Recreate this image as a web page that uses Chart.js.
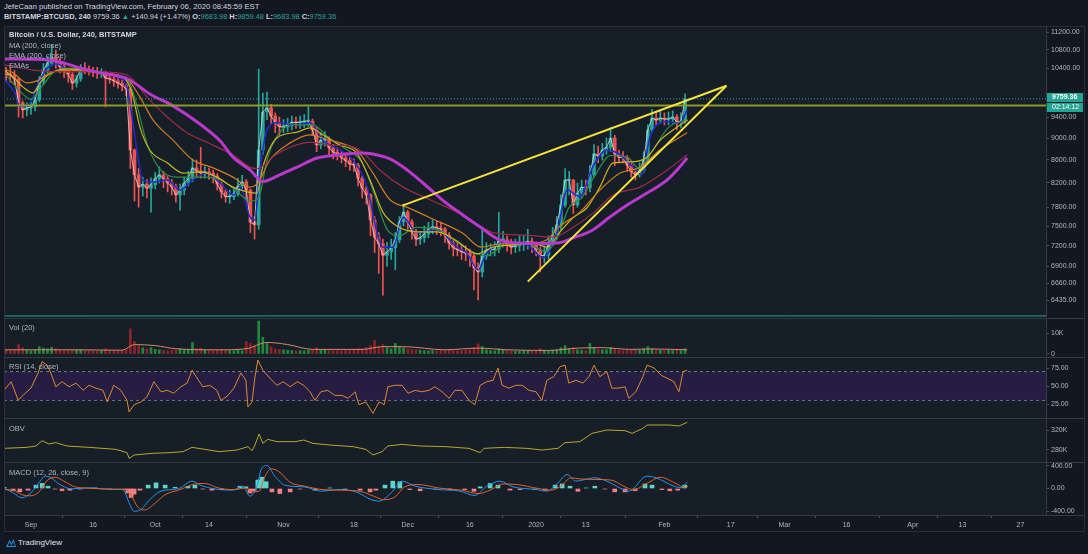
<!DOCTYPE html>
<html lang="en">
<head>
<meta charset="UTF-8">
<title>BITSTAMP:BTCUSD 240</title>
<style>
    body {
        margin: 0;
        width: 1088px;
        height: 554px;
        overflow: hidden;
        position: relative;
        background: #131722;
        font-family: "Liberation Sans", Arial, sans-serif;
        color: #d1d4dc;
    }
    .pane { position: absolute; left: 4px; width: 1042px; background: #161e27; }
    .sep { position: absolute; left: 4px; width: 1080px; height: 1px; background: #363a45; }
    canvas { position: absolute; left: 4px; }
    .lbl { position: absolute; left: 9px; font-size: 7.5px; line-height: 10px; color: #b2b5be; white-space: nowrap; }
    .hdr { position: absolute; left: 4px; font-size: 7.7px; line-height: 10px; white-space: nowrap; color: #d1d4dc; }
    .up { color: #26a69a; }
    #frame { position: absolute; left: 4px; top: 26px; width: 1079px; height: 504px; border: 1px solid #2a2e39; }
</style>
<script src="https://cdn.jsdelivr.net/npm/chart.js"></script>
</head>
<body>
    <div class="hdr" style="top:2px">JefeCaan published on TradingView.com, February 06, 2020 08:45:59 EST</div>
    <div class="hdr" style="top:12px;font-size:7.4px"><b>BITSTAMP:BTCUSD, 240</b> 9759.36 <span class="up">▲</span> +140.94 (+1.47%) <b>O:</b><span class="up">9683.98</span> <b>H:</b><span class="up">9859.48</span> <b>L:</b><span class="up">9683.98</span> <b>C:</b><span class="up">9759.36</span></div>

    <div class="pane" style="top:27px;height:290px"></div>
    <div class="pane" style="top:319px;height:38px"></div>
    <div class="pane" style="top:358px;height:60px"></div>
    <div class="pane" style="top:419px;height:43px"></div>
    <div class="pane" style="top:463px;height:52px"></div>

    <canvas id="cMain" width="1080" height="290" style="top:27px"></canvas>
    <canvas id="cVol" width="1080" height="38" style="top:319px"></canvas>
    <canvas id="cRsi" width="1080" height="60" style="top:358px"></canvas>
    <canvas id="cObv" width="1080" height="43" style="top:419px"></canvas>
    <canvas id="cMacd" width="1080" height="67" style="top:463px"></canvas>

    <div id="frame"></div>
    <div class="sep" style="top:318px"></div>
    <div class="sep" style="top:357px"></div>
    <div class="sep" style="top:418px"></div>
    <div class="sep" style="top:462px"></div>
    <div class="sep" style="top:515px"></div>

    <div class="lbl" style="top:30px;color:#d1d4dc;font-weight:bold">Bitcoin / U.S. Dollar, 240, BITSTAMP</div>
    <div class="lbl" style="top:41px">MA (200, close)</div>
    <div class="lbl" style="top:51px">EMA (200, close)</div>
    <div class="lbl" style="top:61px">EMAs</div>
    <div class="lbl" style="top:323px">Vol (20)</div>
    <div class="lbl" style="top:362px">RSI (14, close)</div>
    <div class="lbl" style="top:424px">OBV</div>
    <div class="lbl" style="top:468px">MACD (12, 26, close, 9)</div>

    <svg style="position:absolute;left:5px;top:537px" width="12" height="11" viewBox="0 0 12 11">
        <path d="M1 10 L4.5 3 L6.5 6.5 L8.5 2 L11 10 Z" fill="#2196f3"/>
        <path d="M2.5 9 L4.5 5 L6.5 8.5 L8.5 4.5 L10 9 Z" fill="#131722"/>
    </svg>
    <div class="hdr" style="left:18px;top:538px;font-size:8px;color:#e0e3eb">TradingView</div>

    <script>
        const FONT = '"Liberation Sans", Arial, sans-serif';

        // day 0 = Sep 1 2019, one candle per day (4h chart condensed)
        const firstDay = -6;
        const firstOpen = 10300;
        const closes = [
            10270, 10250, 10170, 9680, 9540, 9580, 9600, 9740, 10120, 10360,
            10510, 10620, 10540, 10430, 10340, 10270, 10080, 10170, 10400, 10380,
            10340, 10320, 10300, 10300, 10190, 10170, 10130, 10080, 10040, 9960,
            8780, 8340, 8130, 8180, 8110, 8170, 8280, 8340, 8270, 8200,
            8130, 8000, 8080, 8200, 8280, 8460, 8410, 8370, 8390, 8370,
            8320, 8180, 8050, 7970, 7970, 8020, 8150, 8220, 8080, 7560,
            7520, 8780, 9500, 9580, 9420, 9290, 9210, 9210, 9250, 9300,
            9290, 9300, 9320, 9320, 9150, 8870, 8960, 8960, 8820, 8740,
            8710, 8640, 8590, 8530, 8510, 8280, 8110, 8000, 7595, 7330,
            7230, 7060, 7110, 7170, 7290, 7565, 7720, 7565, 7410, 7300,
            7320, 7380, 7455, 7490, 7470, 7455, 7360, 7240, 7170, 7140,
            7110, 7090, 7050, 6880, 6820, 7050, 7140, 7140, 7150, 7290,
            7290, 7210, 7180, 7200, 7230, 7240, 7270, 7210, 7140, 7050,
            7060, 7230, 7350, 7520, 7835, 8250, 8250, 7835, 8030, 8130,
            8120, 8340, 8710, 8670, 8780, 8830, 9000, 8710, 8650, 8640,
            8510, 8390, 8340, 8420, 8600, 9150, 9380, 9340, 9380, 9360,
            9360, 9400, 9300, 9320, 9759.36
        ];
        const highs = [
            10420, 10400, 10350, 10200, 9720, 9680, 9700, 9840, 10220, 10500,
            10650, 10920, 10800, 10620, 10500, 10400, 10320, 10250, 10480, 10520,
            10450, 10420, 10420, 10390, 10340, 10280, 10250, 10200, 10150, 10080,
            9980, 8800, 8450, 8300, 8260, 8290, 8380, 8480, 8400, 8320,
            8260, 8180, 8180, 8300, 8400, 8620, 8600, 8830, 8480, 8460,
            8420, 8360, 8220, 8100, 8080, 8120, 8280, 8330, 8260, 8100,
            7650, 10380, 9880, 9900, 9650, 9480, 9400, 9350, 9380, 9420,
            9400, 9420, 9450, 9600, 9360, 9200, 9100, 9120, 9020, 8880,
            8820, 8760, 8700, 8650, 8620, 8540, 8320, 8150, 8020, 7650,
            7400, 7300, 7250, 7300, 7400, 7650, 7850, 7750, 7600, 7450,
            7420, 7500, 7560, 7600, 7580, 7560, 7480, 7400, 7280, 7250,
            7220, 7200, 7150, 7080, 6950, 7450, 7250, 7230, 7260, 7720,
            7420, 7350, 7300, 7300, 7350, 7350, 7450, 7320, 7260, 7180,
            7200, 7350, 7480, 7650, 8000, 8450, 8400, 8260, 8200, 8250,
            8250, 8500, 8880, 8850, 8900, 9000, 9200, 9050, 8780, 8750,
            8680, 8550, 8450, 8550, 8750, 9250, 9550, 9500, 9550, 9480,
            9500, 9520, 9450, 9480, 9860
        ];
        const lows = [
            10120, 10100, 10050, 9400, 9380, 9420, 9450, 9520, 9700, 10050,
            10300, 10450, 10400, 10300, 10200, 10100, 9950, 10000, 10120, 10280,
            10250, 10220, 10180, 10200, 9600, 10080, 10020, 9980, 9920, 9820,
            8450, 7900, 7800, 7980, 7950, 7720, 8100, 8200, 8120, 8050,
            8000, 7880, 7750, 8000, 8150, 8220, 8300, 8280, 8280, 8260,
            8200, 8080, 7950, 7880, 7860, 7920, 7980, 8100, 7900, 7400,
            7300, 7450, 8700, 9350, 9250, 9100, 9050, 9100, 9120, 9150,
            9180, 9180, 9200, 9220, 9050, 8750, 8800, 8850, 8700, 8620,
            8600, 8550, 8480, 8420, 8400, 8150, 7950, 7850, 7350, 7100,
            6800, 6500, 6900, 7000, 6850, 7250, 7500, 7450, 7300, 7200,
            7220, 7250, 7320, 7380, 7370, 7350, 7250, 7150, 7050, 7050,
            7000, 6980, 6900, 6570, 6436, 6750, 7000, 7050, 7050, 7100,
            7180, 7120, 7080, 7100, 7120, 7130, 7150, 7100, 7050, 6820,
            6950, 7000, 7200, 7300, 7450, 7800, 8000, 7700, 7800, 7950,
            8000, 8050, 8300, 8550, 8600, 8700, 8750, 8500, 8550, 8550,
            8400, 8300, 8250, 8300, 8380, 8550, 9100, 9250, 9280, 9250,
            9250, 9280, 9150, 9200, 9280
        ];
        // thousands of BTC per bar
        const volumes = [
            1.8, 1.5, 2.0, 4.5, 3.0, 1.8, 1.5, 2.0, 3.5, 2.8,
            2.5, 3.2, 2.5, 1.8, 1.6, 1.5, 2.2, 1.8, 2.0, 1.6,
            1.5, 1.4, 1.5, 1.6, 2.5, 1.5, 1.4, 1.5, 1.6, 2.0,
            12.0, 6.0, 4.0, 3.0, 2.5, 3.0, 2.2, 2.0, 1.8, 1.6,
            1.8, 2.0, 2.5, 2.0, 1.8, 5.5, 2.5, 2.8, 1.8, 1.6,
            1.5, 2.0, 2.2, 1.8, 1.6, 1.5, 1.8, 1.6, 6.0, 5.0,
            4.0, 15.7, 8.0, 5.0, 3.5, 2.5, 2.2, 2.0, 1.8, 1.6,
            1.5, 1.6, 1.5, 1.8, 2.0, 3.0, 2.0, 1.8, 1.6, 1.5,
            1.6, 1.5, 1.8, 1.6, 1.8, 2.5, 2.5, 3.0, 4.0, 6.5,
            3.5, 4.5, 3.0, 2.5, 5.0, 3.5, 3.0, 2.5, 2.2, 2.0,
            1.8, 1.6, 1.5, 1.6, 1.5, 1.6, 1.8, 2.0, 1.6, 1.5,
            1.6, 1.8, 2.0, 3.0, 4.8, 3.5, 2.0, 1.6, 1.5, 2.5,
            1.8, 1.6, 1.4, 1.3, 1.4, 1.5, 1.6, 1.4, 1.5, 2.5,
            1.8, 1.6, 1.8, 2.0, 3.0, 4.0, 2.5, 3.0, 2.0, 1.8,
            1.6, 5.0, 3.0, 2.2, 2.0, 2.0, 3.0, 2.5, 1.8, 1.6,
            2.0, 2.2, 2.0, 1.8, 2.5, 3.5, 2.5, 2.0, 1.8, 1.6,
            1.8, 1.6, 1.8, 1.6, 2.5
        ];
        const volMaDays = [-6.5, 10, 22, 25, 30, 35, 45, 52, 57, 62, 68, 80, 85, 90, 100, 108, 115, 125, 132, 138, 145, 150, 158.5];
        const volMa = [2.0, 2.0, 1.8, 4.5, 4.0, 2.5, 2.0, 2.5, 5.5, 4.5, 2.2, 2.2, 3.5, 3.5, 2.0, 2.8, 2.0, 1.7, 2.8, 3.0, 2.2, 2.4, 2.0];

        // moving averages
        const ma200Days = [-6.5, 4.6, 11.8, 16.7, 23.4, 28.7, 34.3, 40.8, 45.7, 48.8, 52.9, 56, 60.1, 64.3, 69.1, 73.9, 80.2, 83.6, 86.7, 89.9, 94.7, 99.4, 104.3, 108.5, 113.3, 118.1, 122.9, 127.1, 131, 135.7, 139.9, 144, 148.8, 153.6, 156, 158.5];
        const ma200 = [10600, 10580, 10405, 10300, 10170, 9860, 9620, 9265, 8945, 8650, 8425, 8225, 8340, 8475, 8635, 8690, 8725, 8690, 8620, 8475, 8200, 7915, 7675, 7485, 7285, 7240, 7235, 7240, 7320, 7440, 7645, 7835, 8030, 8250, 8420, 8635];
        const ema200Days = [-6.5, 0.5, 8.7, 16.7, 23.2, 28, 32.9, 37.7, 42.5, 48.8, 52.9, 54.8, 58.5, 62.6, 67.4, 72.2, 77.1, 80.2, 84.3, 89.9, 96.4, 104.3, 111.6, 119.8, 126.1, 130.9, 135.7, 140.6, 147.1, 153.6, 158.5];
        const ema200 = [10470, 10360, 10320, 10320, 10255, 9800, 9400, 9100, 8920, 8690, 8470, 8450, 8660, 8830, 8920, 8870, 8850, 8730, 8420, 8130, 7920, 7675, 7400, 7360, 7330, 7480, 7700, 8000, 8130, 8420, 8690];
        const emaOrangeDays = [-6.5, -4.3, -1, 1.4, 4.6, 8.7, 16.7, 23.2, 26.3, 29.5, 34.3, 39.1, 44, 48.8, 52.9, 54.8, 57.7, 62.6, 67.4, 70.5, 74.6, 78.7, 82.6, 86.7, 90.8, 96.4, 104.3, 108.7, 113.3, 119.8, 124.6, 127.8, 132.6, 137.4, 142.3, 147.1, 151.9, 158.5];
        const emaOrange = [10380, 10300, 10090, 10130, 10300, 10360, 10300, 10170, 9800, 9340, 8960, 8600, 8460, 8300, 8130, 8200, 8600, 8910, 9060, 9000, 8910, 8780, 8370, 7920, 7800, 7630, 7390, 7180, 7230, 7230, 7290, 7500, 7720, 8080, 8370, 8470, 8780, 9100];
        const emaYellowDays = [-6.5, -4.3, -1.9, 0.5, 2.2, 4.6, 8.7, 13.5, 18.4, 22.2, 24.4, 26.3, 28.7, 32.9, 36.7, 40.8, 44.9, 48.8, 52.2, 54.6, 56, 59.4, 64.3, 67.4, 70.5, 74.6, 78.7, 81.9, 85, 88.4, 93.2, 98.1, 102.9, 107.7, 111.6, 115.7, 121.3, 124.6, 127.8, 130.9, 134.3, 137.4, 140.6, 145.4, 148.8, 152, 155.1, 158.6];
        const emaYellow = [10360, 10210, 10000, 9880, 10090, 10280, 10380, 10360, 10280, 10210, 9880, 9210, 8780, 8550, 8370, 8390, 8300, 8130, 8050, 8030, 8480, 9000, 9110, 9190, 9060, 8870, 8725, 8250, 7720, 7500, 7410, 7410, 7270, 7080, 7180, 7210, 7240, 7180, 7410, 7630, 7790, 8130, 8550, 8570, 8650, 8960, 9150, 9340];
        const emaGreenDays = [-6, -3, 0, 3, 6, 10, 16, 22, 24, 26, 28, 31, 35, 40, 45, 49, 53, 55, 57, 60, 64, 68, 72, 76, 80, 83, 86, 89, 93, 98, 103, 107, 110, 114, 120, 124, 127, 130, 133, 136, 140, 144, 147, 150, 154, 158.5];
        const emaGreen = [10250, 9950, 9750, 10050, 10350, 10400, 10320, 10200, 10050, 9500, 8900, 8450, 8300, 8300, 8280, 8100, 7900, 7950, 8600, 9100, 9250, 9250, 9000, 8800, 8550, 8000, 7450, 7350, 7480, 7450, 7250, 7100, 7050, 7200, 7230, 7120, 7300, 7800, 7950, 8300, 8680, 8650, 8450, 8750, 9200, 9350];
        const emaBlueDays = [-6.3, -3.9, -2.7, -0.2, 1.4, 3.9, 6.3, 8.7, 11.8, 16.7, 20.8, 23.2, 24.4, 25.6, 27, 29.5, 32.9, 36, 39.1, 42.5, 45.7, 48.8, 50.5, 52.9, 54.1, 55.3, 57, 59.4, 64.3, 67.4, 70.5, 74.6, 77.8, 81.2, 83.6, 85, 87.4, 89.9, 93.2, 98.1, 102.9, 105.3, 108, 110.1, 114, 119.8, 123.7, 127.1, 129.5, 132.6, 135.7, 139.1, 141.5, 145.4, 147.6, 149.5, 153.6, 156.8, 158.5];
        const emaBlue = [10150, 9880, 9600, 9680, 10000, 10400, 10490, 10380, 10360, 10300, 10210, 10000, 9400, 8780, 8250, 8215, 8250, 8080, 8250, 8370, 8200, 8000, 8130, 7640, 7595, 8420, 9150, 9290, 9250, 9290, 8960, 8780, 8600, 8130, 7400, 7180, 7180, 7640, 7400, 7440, 7180, 7090, 6850, 7090, 7240, 7210, 7030, 7400, 8080, 7970, 8480, 8780, 8730, 8480, 8340, 9020, 9310, 9290, 9540];

        // drawings
        const wedgeUpperDays = [89.7, 168.0];
        const wedgeUpper = [7824, 10030];
        const wedgeLowerDays = [120.0, 168.0];
        const wedgeLower = [6685, 10030];
        const resistanceLevel = 9625;
        const lowLevel = 6226;
        const lastPrice = 9759.36;
        const countdown = '02:14:12';

        // oscillators
        const rsiDays = [-6.5, -4.8, -3.1, -1.4, 0, 1.7, 2.7, 3.9, 4.8, 6, 7.5, 9.2, 10.9, 12.6, 14, 15.7, 17.4, 18.4, 20, 21.7, 23.2, 23.7, 24.9, 26.6, 28, 29.7, 31.4, 32.9, 34.5, 36.2, 37.7, 38.9, 39.9, 41.5, 43.2, 44.9, 45.9, 47.6, 49, 50.7, 51.9, 52.4, 53.4, 54.1, 54.8, 56, 57.7, 59.4, 60.9, 62.6, 64.3, 65.9, 67.4, 68.6, 70, 71.7, 73.4, 75.1, 76.6, 78.3, 79.2, 80.9, 82.6, 84.1, 85.3, 86.2, 87.9, 89.6, 91.1, 92.8, 94.4, 96.1, 97.6, 99.3, 101, 102.4, 104.1, 105.8, 107.2, 108.5, 110.1, 111.6, 112.8, 113.8, 115.5, 117.1, 118.6, 120.3, 122, 123.4, 124.6, 126.3, 127.8, 129, 129.9, 131.6, 133.3, 134.8, 136, 137.4, 139.1, 140.3, 141.8, 143.5, 144.4, 146.1, 147.8, 148.8, 150.5, 152.2, 153.6, 155.3, 156.5, 157.5, 158.5];
        const rsiVals = [44, 56, 30.5, 40, 47, 68, 84, 79, 68, 49, 56, 49, 54, 44, 51, 47, 44, 28, 51, 44, 30, 14, 24, 28, 35, 56, 42, 44, 40, 49, 54, 72, 63, 49, 51, 44, 30, 37, 47, 68, 58, 21, 28, 63, 86, 72, 61, 51, 56, 49, 56, 51, 42, 30, 42, 44, 37, 37, 33, 42, 24, 28, 12, 28, 24, 49, 51, 51, 40, 44, 42, 44, 49, 42, 33, 44, 44, 30, 24, 51, 56, 58, 75, 51, 47, 51, 51, 44, 42, 30, 58, 63, 77, 79, 54, 58, 54, 63, 79, 63, 70, 47, 47, 49, 33, 42, 63, 79, 75, 65, 61, 56, 42, 70, 72];
        const rsiUpper = 70;
        const rsiLower = 30;

        const obvDays = [-6.5, -1, 1.2, 2.7, 4.3, 6, 8.7, 14, 20.5, 23.2, 23.7, 24.9, 29.2, 33.6, 36.7, 38.9, 42, 45.4, 49.8, 52.4, 53.4, 54.1, 55.1, 56, 57.2, 59.4, 63.8, 65.9, 68.1, 72.2, 77.8, 80.9, 82.6, 84.8, 86.2, 89.6, 94, 100.2, 105.8, 108.5, 109.4, 114.3, 119.8, 123.4, 127.3, 129, 132.6, 135.5, 139.1, 143.5, 145.2, 147.8, 148.8, 154.3, 156.5, 158.5];
        const obvVals = [283.3, 285.3, 288, 298.7, 292, 294.7, 288, 285.3, 281.3, 274.7, 263.3, 270, 273.3, 274.7, 276.7, 285.3, 281.3, 276.7, 280, 286.7, 278.7, 290, 312, 293.3, 301.3, 296.7, 296.7, 300, 293.3, 290, 286.7, 281.3, 270, 276.7, 288, 291.3, 288, 286.7, 283.3, 274.7, 283.3, 285.3, 283.3, 280, 283.3, 294.7, 296.7, 313.3, 320, 318.7, 313.3, 323.3, 330, 330, 328, 335.3];

        const macdDays = [-6.5, -4.3, -2.2, 0, 2.2, 3.4, 4.8, 7, 9.7, 14, 19.6, 22.2, 23.7, 24.9, 26.6, 28.7, 31.4, 35.7, 38.9, 41.1, 44.2, 48.6, 51.2, 52.9, 54.6, 55.6, 57, 58.9, 61.6, 65.9, 70, 74.4, 78.7, 82.1, 84.1, 87, 89.6, 92.8, 98.3, 103.6, 107.2, 110.1, 113.3, 116.4, 122, 124.6, 127.3, 129.5, 131.6, 136, 139.1, 142.5, 144.4, 148.8, 151, 155.3, 157, 158.5];
        const macdVals = [10, -77, -166, -77, 130, 220, 190, 70, -6, 12, -18, -18, -255, -404, -374, -196, -47, 0, 130, 53, -6, -30, 41, -136, 41, 338, 409, 219, 53, 30, -47, -18, -65, -196, -225, -77, 130, 41, -18, -47, -124, 41, 130, 30, -18, -47, 100, 249, 130, 190, 130, 0, -47, 219, 190, 41, 12, 112];
        const signalDays = [-6.5, -4.3, -2.2, 0, 2.2, 3.9, 5.8, 8.2, 10.6, 14, 19.6, 22.7, 24.2, 25.8, 27.5, 30, 32.4, 36, 39.6, 42, 45.2, 49.3, 51.9, 53.4, 55.1, 56.3, 58, 59.9, 62.6, 66.2, 70.5, 74.6, 79.5, 82.9, 85.3, 87.9, 90.3, 93.5, 98.8, 104.1, 108, 110.9, 114, 117.4, 122.5, 125.4, 128, 130.4, 132.6, 136.7, 140.1, 143.2, 145.4, 149.5, 151.9, 156, 157.7, 158.7];
        const signalVals = [-20, -30, -110, -130, -40, 140, 200, 120, 30, 5, -10, -15, -120, -330, -380, -260, -110, -20, 80, 90, 10, -20, 10, -60, -50, 180, 350, 300, 110, 40, -20, -30, -50, -140, -200, -150, 30, 70, 5, -30, -90, -30, 80, 70, 0, -30, 40, 190, 170, 160, 150, 40, -20, 120, 200, 80, 20, 40];
        const histDays = [-6.5, -4.3, -2.7, -0.7, 1.2, 2.7, 4.1, 5.8, 7.5, 9.4, 11.8, 15.5, 19.1, 22.7, 23.4, 24.2, 24.9, 26.3, 28.3, 30.2, 32.4, 34.8, 37.9, 39.6, 41.5, 43.7, 46.1, 50.5, 51.9, 52.9, 53.9, 54.8, 55.8, 56.8, 58.2, 60.1, 62.6, 65, 68.6, 72.2, 75.8, 79.5, 81.9, 83.3, 85.5, 87.4, 89.1, 91.5, 94, 97.6, 101.2, 104.8, 107, 108.5, 110.9, 112.8, 115.7, 118.1, 121.7, 124.2, 126.6, 128.3, 130.2, 132.1, 134.1, 136.2, 138.6, 141, 143.5, 145.9, 148.3, 150, 152.4, 154.3, 156.2, 157.9];
        const histVals = [20, -40, -60, -30, 60, 90, 40, -10, -40, -30, -10, 10, -10, -10, -80, -160, -100, -30, 60, 100, 60, 20, 40, 60, -10, -30, -20, 40, 30, -80, -40, 150, 200, 120, -60, -90, -60, -10, -30, 10, -20, -30, -60, -30, 60, 130, 120, -20, -40, -10, -20, -20, -50, 30, 90, 60, -30, -20, -20, -30, 60, 80, 40, -50, 10, 40, -10, -60, -60, -40, 80, 60, -20, -40, -30, 60];

        // axes
        const xTickDays = [0, 15, 30, 43, 61, 78, 91, 106, 122, 134, 153, 169, 182, 197, 213, 225, 239];
        const xTickLabels = ['Sep', '16', 'Oct', '14', 'Nov', '18', 'Dec', '16', '2020', '13', 'Feb', '17', 'Mar', '16', 'Apr', '13', '27'];
        const priceTicks = [6435, 6660, 6900, 7200, 7500, 7800, 8200, 8600, 9000, 9400, 9800, 10400, 10800, 11200];

        const X_MIN = -6.52, X_MAX = 245.17;
        const UP = '#26a69a', DOWN = '#ef5350';

        const days = closes.map((c, i) => firstDay + i);
        const opens = closes.map((c, i) => i === 0 ? firstOpen : closes[i - 1]);
        const candleColors = closes.map((c, i) => c >= opens[i] ? UP : DOWN);
        const pts = (xs, ys) => xs.map((x, i) => ({ x: x, y: ys[i] }));
        const flat = v => [{ x: X_MIN, y: v }, { x: X_MAX, y: v }];

        function hiddenX() {
            return { type: 'linear', min: X_MIN, max: X_MAX, display: false, offset: false };
        }

        function yAxis(type, min, max, tickVals, fmt) {
            return {
                type: type, position: 'right', min: min, max: max, bounds: 'data',
                beginAtZero: false,
                afterFit: s => { s.width = 38; s.paddingTop = 0; s.paddingBottom = 0; },
                afterBuildTicks: s => { s.ticks = tickVals.map(v => ({ value: v })); },
                grid: { drawOnChartArea: false, drawTicks: true, tickLength: 3, color: '#50535e' },
                border: { display: true, color: '#363a45' },
                ticks: {
                    color: '#b2b5be', font: { size: 7, family: FONT }, padding: 2,
                    autoSkip: false, maxRotation: 0,
                    callback: v => fmt(v)
                }
            };
        }

        function baseOptions(xScale, yScale) {
            return {
                responsive: false, animation: false, devicePixelRatio: 1, events: [],
                layout: { padding: 0 },
                plugins: { legend: { display: false }, tooltip: { enabled: false } },
                scales: { x: xScale, y: yScale }
            };
        }

        function line(data, color, width, extra) {
            return Object.assign({
                type: 'line', data: data, borderColor: color, borderWidth: width,
                pointRadius: 0, tension: 0, fill: false
            }, extra || {});
        }
        const smooth = order => ({ cubicInterpolationMode: 'monotone', order: order });

        // price tag on the axis
        const priceTag = {
            id: 'priceTag',
            afterDraw(chart) {
                const ctx = chart.ctx;
                const y = Math.round(chart.scales.y.getPixelForValue(lastPrice));
                const x0 = chart.chartArea.right + 1;
                const w = chart.width - x0 - 1;
                ctx.save();
                ctx.fillStyle = '#22a594';
                ctx.fillRect(x0, y - 6, w, 9);
                ctx.fillRect(x0, y + 4, w, 9);
                ctx.fillStyle = '#ffffff';
                ctx.font = 'bold 7px ' + FONT;
                ctx.textBaseline = 'middle';
                ctx.fillText(lastPrice.toFixed(2), x0 + 5, y - 1.5);
                ctx.font = '7px ' + FONT;
                ctx.fillText(countdown, x0 + 5, y + 8.5);
                ctx.restore();
            }
        };

        // main price pane
        new Chart(document.getElementById('cMain'), {
            type: 'line',
            data: {
                datasets: [
                    line(pts(wedgeUpperDays, wedgeUpper), '#f7e23b', 2, { order: 1 }),
                    line(pts(wedgeLowerDays, wedgeLower), '#f7e23b', 2, { order: 1 }),
                    line(flat(lastPrice), '#26a69a', 1, { borderDash: [1, 2], order: 2 }),
                    line(flat(resistanceLevel), '#8c9a26', 2, { order: 2 }),
                    line(flat(lowLevel), '#26a69a', 1, { order: 2 }),
                    line(pts(ma200Days, ma200), '#bb38cc', 3, smooth(3)),
                    line(pts(ema200Days, ema200), '#9a2c48', 1.2, smooth(4)),
                    line(pts(emaOrangeDays, emaOrange), '#cf7d1c', 1.2, smooth(5)),
                    line(pts(emaYellowDays, emaYellow), '#c9b620', 1.2, smooth(6)),
                    line(pts(emaGreenDays, emaGreen), '#2f8f45', 1.2, smooth(7)),
                    line(pts(emaBlueDays, emaBlue), '#1f2ad0', 1.5, smooth(8)),
                    line(pts(days, closes), 'rgba(235,235,240,0.7)', 1, { order: 9 }),
                    {
                        type: 'bar', order: 11, grouped: false, barThickness: 3, minBarLength: 1,
                        data: days.map((d, i) => ({ x: d, y: [opens[i], closes[i]] })),
                        backgroundColor: candleColors
                    },
                    {
                        type: 'bar', order: 12, grouped: false, barThickness: 1,
                        data: days.map((d, i) => ({ x: d, y: [lows[i], highs[i]] })),
                        backgroundColor: candleColors
                    }
                ]
            },
            options: baseOptions(hiddenX(), yAxis('logarithmic', 6213, 11326, priceTicks, v => v.toFixed(2))),
            plugins: [priceTag]
        });

        // volume
        new Chart(document.getElementById('cVol'), {
            type: 'line',
            data: {
                datasets: [
                    line(pts(volMaDays, volMa), '#d68a67', 1, smooth(1)),
                    {
                        type: 'bar', order: 2, grouped: false, barThickness: 2,
                        data: pts(days, volumes),
                        backgroundColor: candleColors.map(c => c === UP ? '#21883e' : '#8e2329')
                    }
                ]
            },
            options: baseOptions(hiddenX(), yAxis('linear', -1.43, 16.67, [0, 10], v => v === 0 ? '0' : v + 'K'))
        });

        // RSI
        new Chart(document.getElementById('cRsi'), {
            type: 'line',
            data: {
                datasets: [
                    line(pts(rsiDays, rsiVals), '#dd8a2e', 1, { order: 1 }),
                    line(flat(rsiUpper), '#787b86', 1, { borderDash: [3, 3], fill: '+1', backgroundColor: 'rgba(90,30,160,0.24)', order: 2 }),
                    line(flat(rsiLower), '#787b86', 1, { borderDash: [3, 3], order: 2 })
                ]
            },
            options: baseOptions(hiddenX(), yAxis('linear', 5.6, 88.9, [25, 50, 75], v => v.toFixed(2)))
        });

        // OBV
        new Chart(document.getElementById('cObv'), {
            type: 'line',
            data: { datasets: [line(pts(obvDays, obvVals), '#b9a82a', 1)] },
            options: baseOptions(hiddenX(), yAxis('linear', 256, 342, [280, 320], v => v + 'K'))
        });

        // MACD with time axis
        const timeAxis = {
            type: 'linear', min: X_MIN, max: X_MAX, position: 'bottom', offset: false,
            afterFit: s => { s.height = 15; s.paddingLeft = 0; s.paddingRight = 0; },
            afterBuildTicks: s => { s.ticks = xTickDays.map(v => ({ value: v })); },
            grid: { drawOnChartArea: false, drawTicks: true, tickLength: 3, color: '#50535e' },
            border: { display: true, color: '#363a45' },
            ticks: {
                color: '#b2b5be', font: { size: 7, family: FONT }, padding: 3,
                autoSkip: false, maxRotation: 0,
                callback: (v, i) => xTickLabels[i]
            }
        };
        new Chart(document.getElementById('cMacd'), {
            type: 'line',
            data: {
                datasets: [
                    line(pts(signalDays, signalVals), '#e0632a', 1, smooth(1)),
                    line(pts(macdDays, macdVals), '#2196f3', 1, smooth(2)),
                    {
                        type: 'bar', order: 3, grouped: false, barThickness: 4,
                        data: pts(histDays, histVals),
                        backgroundColor: histVals.map(v => v >= 0 ? '#5fd3c6' : '#f77f82')
                    }
                ]
            },
            options: baseOptions(timeAxis, yAxis('linear', -471, 453, [-400, 0, 400], v => v.toFixed(2)))
        });
    </script>
</body>
</html>
